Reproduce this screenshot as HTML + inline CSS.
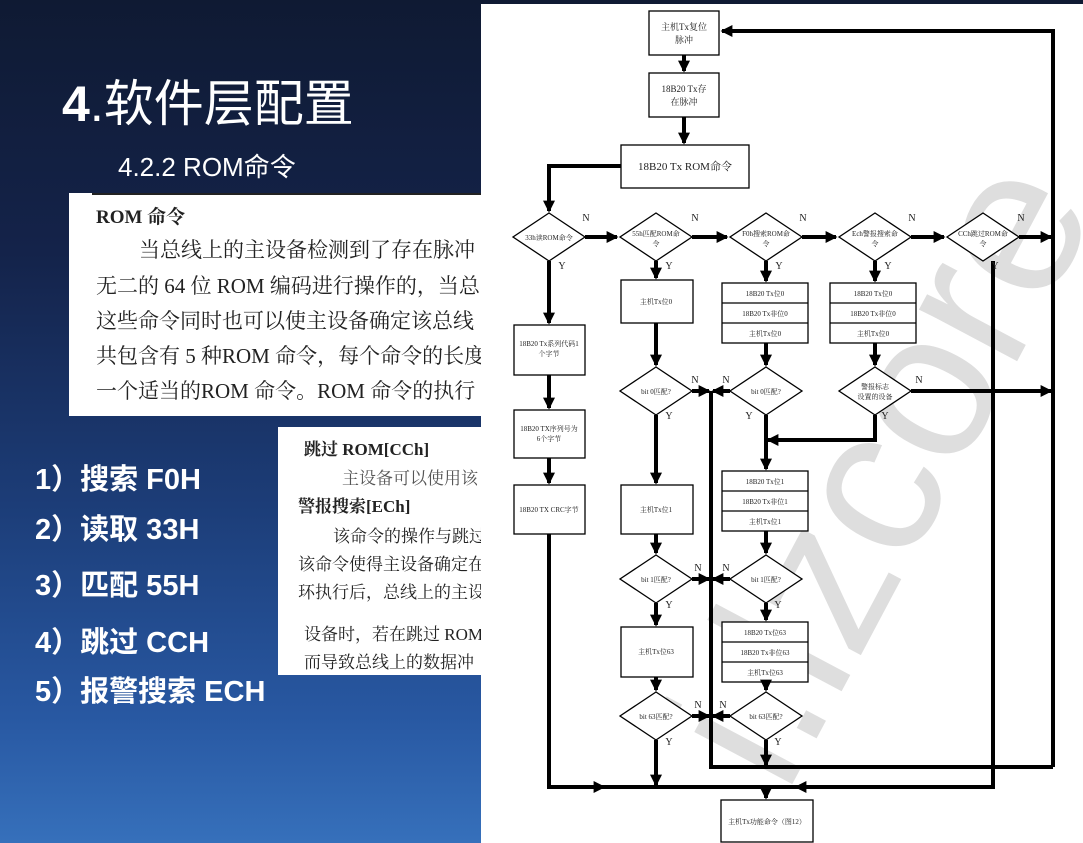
<!DOCTYPE html>
<html><head><meta charset="utf-8"><style>
html,body{margin:0;padding:0;width:1083px;height:843px;overflow:hidden;}
body{background:linear-gradient(180deg,#0f1a33 0%,#14234a 30%,#1c3d78 60%,#2858a2 85%,#3670bb 100%);position:relative;font-family:"Liberation Sans","Noto Sans CJK SC",sans-serif;}
.abs{position:absolute;}
.t1{left:62px;top:64px;color:#fff;font-size:50px;white-space:nowrap;}
.t2{left:118px;top:147px;color:#fff;font-size:26px;white-space:nowrap;}
.box1{left:69px;top:193px;width:412px;height:223px;background:#fff;overflow:hidden;}
.box2{left:278px;top:427px;width:203px;height:248px;background:#fff;overflow:hidden;}
.doc{font-family:"Liberation Serif","Noto Serif CJK SC",serif;color:#222;white-space:nowrap;position:absolute;}
.li{color:#fff;font-weight:bold;font-size:29px;left:35px;white-space:nowrap;}
</style></head><body>
<div class="abs t1"><b>4</b>.软件层配置</div>
<div class="abs t2">4.2.2 ROM命令</div>
<div class="abs box1">
 <div style="position:absolute;left:23px;top:0;width:400px;height:2px;background:#222"></div>
 <div class="doc" style="left:27px;top:9px;font-size:19px;font-weight:bold">ROM 命令</div>
 <div class="doc" style="left:70px;top:41px;font-size:21px">当总线上的主设备检测到了存在脉冲</div>
 <div class="doc" style="left:27px;top:77px;font-size:21px">无二的 64 位 ROM 编码进行操作的，当总</div>
 <div class="doc" style="left:27px;top:112px;font-size:21px">这些命令同时也可以使主设备确定该总线</div>
 <div class="doc" style="left:27px;top:147px;font-size:21px">共包含有 5 种ROM 命令，每个命令的长度</div>
 <div class="doc" style="left:27px;top:182px;font-size:21px">一个适当的ROM 命令。ROM 命令的执行</div>
</div>
<div class="abs box2">
 <div class="doc" style="left:26px;top:8px;font-size:17px;font-weight:bold">跳过 ROM[CCh]</div>
 <div class="doc" style="left:64px;top:37px;font-size:17px;color:#555">主设备可以使用该</div>
 <div class="doc" style="left:20px;top:65px;font-size:17px;font-weight:bold">警报搜索[ECh]</div>
 <div class="doc" style="left:55px;top:95px;font-size:17px">该命令的操作与跳过</div>
 <div class="doc" style="left:20px;top:123px;font-size:17px">该命令使得主设备确定在</div>
 <div class="doc" style="left:20px;top:151px;font-size:17px">环执行后，总线上的主设</div>
 <div class="doc" style="left:26px;top:193px;font-size:17px">设备时，若在跳过 ROM</div>
 <div class="doc" style="left:26px;top:221px;font-size:17px">而导致总线上的数据冲</div>
</div>
<div class="abs li" style="top:456px">1）搜索 F0H</div>
<div class="abs li" style="top:506px">2）读取 33H</div>
<div class="abs li" style="top:562px">3）匹配 55H</div>
<div class="abs li" style="top:619px">4）跳过 CCH</div>
<div class="abs li" style="top:668px">5）报警搜索 ECH</div>

<svg class="abs" style="left:0;top:0" width="1083" height="843" viewBox="0 0 1083 843" font-family="Liberation Serif,Noto Serif CJK SC,serif">
<defs><marker id="a" markerWidth="3" markerHeight="3" refX="2.6" refY="1.5" orient="auto" markerUnits="strokeWidth"><path d="M0,0 L3,1.5 L0,3 z" fill="#000"/></marker></defs>
<rect x="481" y="4" width="602" height="839" fill="#fff"/>
<g transform="translate(880,470) rotate(-62)" fill="#dedede" font-family="Liberation Sans,sans-serif" font-size="210" text-anchor="middle"><text x="0" y="70">i.lzcore</text></g>
<g fill="#fff" stroke="#000" stroke-width="1.3">
<rect x="649" y="11" width="70" height="44"/>
<rect x="649" y="73" width="70" height="44"/>
<rect x="621" y="145" width="128" height="43"/>
<rect x="514" y="325" width="71" height="50"/>
<rect x="514" y="410" width="71" height="48"/>
<rect x="514" y="485" width="71" height="49"/>
<rect x="621" y="280" width="72" height="43"/>
<rect x="621" y="485" width="72" height="49"/>
<rect x="621" y="627" width="72" height="50"/>
<rect x="722" y="283" width="86" height="60"/>
<rect x="830" y="283" width="86" height="60"/>
<rect x="722" y="471" width="86" height="60"/>
<rect x="722" y="622" width="86" height="60"/>
<rect x="721" y="800" width="92" height="42"/>
<path d="M722,303H808M722,323H808M830,303H916M830,323H916M722,491H808M722,511H808M722,642H808M722,662H808"/>
<path d="M549,213L585,237L549,261L513,237Z"/>
<path d="M656,213L692,237L656,261L620,237Z"/>
<path d="M766,213L802,237L766,261L730,237Z"/>
<path d="M875,213L911,237L875,261L839,237Z"/>
<path d="M983,213L1019,237L983,261L947,237Z"/>
<path d="M656,367L692,391L656,415L620,391Z"/>
<path d="M766,367L802,391L766,415L730,391Z"/>
<path d="M875,367L911,391L875,415L839,391Z"/>
<path d="M656,555L692,579L656,603L620,579Z"/>
<path d="M766,555L802,579L766,603L730,579Z"/>
<path d="M656,692L692,716L656,740L620,716Z"/>
<path d="M766,692L802,716L766,740L730,716Z"/>
</g>
<g stroke="#000" stroke-width="4" fill="none">
<path d="M684,55V71" marker-end="url(#a)"/>
<path d="M684,117V143" marker-end="url(#a)"/>
<path d="M621,193H549V211" marker-end="url(#a)" transform="translate(0,0)" style="display:none"/>
<path d="M621,166H549V211" marker-end="url(#a)"/>
<path d="M585,237H617" marker-end="url(#a)"/>
<path d="M692,237H727" marker-end="url(#a)"/>
<path d="M802,237H836" marker-end="url(#a)"/>
<path d="M911,237H944" marker-end="url(#a)"/>
<path d="M1019,237H1051" marker-end="url(#a)"/>
<path d="M1053,767V31H722" marker-end="url(#a)"/>
<path d="M549,261V323" marker-end="url(#a)"/>
<path d="M549,375V408" marker-end="url(#a)"/>
<path d="M549,458V483" marker-end="url(#a)"/>
<path d="M549,534V787H993V261"/>
<path d="M595,787H604" marker-end="url(#a)"/>
<path d="M805,787H796" marker-end="url(#a)"/>
<path d="M766,787V798" marker-end="url(#a)"/>
<path d="M656,261V278" marker-end="url(#a)"/>
<path d="M766,261V281" marker-end="url(#a)"/>
<path d="M875,261V281" marker-end="url(#a)"/>
<path d="M656,323V365" marker-end="url(#a)"/>
<path d="M766,343V365" marker-end="url(#a)"/>
<path d="M875,343V365" marker-end="url(#a)"/>
<path d="M911,391H1051" marker-end="url(#a)"/>
<path d="M875,415V440H768" marker-end="url(#a)"/>
<path d="M656,415V483" marker-end="url(#a)"/>
<path d="M766,415V469" marker-end="url(#a)"/>
<path d="M656,534V553" marker-end="url(#a)"/>
<path d="M766,531V553" marker-end="url(#a)"/>
<path d="M656,603V625" marker-end="url(#a)"/>
<path d="M766,603V620" marker-end="url(#a)"/>
<path d="M656,677V690" marker-end="url(#a)"/>
<path d="M766,682V690" marker-end="url(#a)"/>
<path d="M656,740V785" marker-end="url(#a)"/>
<path d="M766,740V765" marker-end="url(#a)"/>
<path d="M711,391V767H1053"/>
<path d="M692,391H709" marker-end="url(#a)"/>
<path d="M730,391H713" marker-end="url(#a)"/>
<path d="M692,579H709" marker-end="url(#a)"/>
<path d="M730,579H713" marker-end="url(#a)"/>
<path d="M692,716H709" marker-end="url(#a)"/>
<path d="M730,716H713" marker-end="url(#a)"/>
</g>
<g font-size="9" text-anchor="middle" fill="#222">
<text x="684" y="30">主机Tx复位</text><text x="684" y="43">脉冲</text>
<text x="684" y="92">18B20 Tx存</text><text x="684" y="105">在脉冲</text>
<text x="685" y="170" font-size="11">18B20  Tx  ROM命令</text>
<g font-size="7">
<text x="549" y="240">33h读ROM命令</text>
<text x="656" y="236">55h匹配ROM命</text><text x="656" y="246">令</text>
<text x="766" y="236">F0h搜索ROM命</text><text x="766" y="246">令</text>
<text x="875" y="236">Ech警报搜索命</text><text x="875" y="246">令</text>
<text x="983" y="236">CCh跳过ROM命</text><text x="983" y="246">令</text>
<text x="549" y="346">18B20 Tx系列代码1</text><text x="549" y="356">个字节</text>
<text x="549" y="431">18B20 TX序列号为</text><text x="549" y="441">6个字节</text>
<text x="549" y="512">18B20 TX CRC字节</text>
<text x="656" y="304">主机Tx位0</text>
<text x="656" y="512">主机Tx位1</text>
<text x="656" y="654">主机Tx位63</text>
<text x="765" y="296">18B20 Tx位0</text><text x="765" y="316">18B20 Tx非位0</text><text x="765" y="336">主机Tx位0</text>
<text x="873" y="296">18B20 Tx位0</text><text x="873" y="316">18B20 Tx非位0</text><text x="873" y="336">主机Tx位0</text>
<text x="765" y="484">18B20 Tx位1</text><text x="765" y="504">18B20 Tx非位1</text><text x="765" y="524">主机Tx位1</text>
<text x="765" y="635">18B20 Tx位63</text><text x="765" y="655">18B20 Tx非位63</text><text x="765" y="675">主机Tx位63</text>
<text x="656" y="394">bit 0匹配?</text><text x="766" y="394">bit 0匹配?</text>
<text x="875" y="389">警报标志</text><text x="875" y="399">设置的设备</text>
<text x="656" y="582">bit 1匹配?</text><text x="766" y="582">bit 1匹配?</text>
<text x="656" y="719">bit 63匹配?</text><text x="766" y="719">bit 63匹配?</text>
<text x="767" y="824">主机Tx功能命令（图12）</text>
</g>
<g font-size="10">
<text x="586" y="221">N</text><text x="695" y="221">N</text><text x="803" y="221">N</text><text x="912" y="221">N</text><text x="1021" y="221">N</text>
<text x="562" y="269">Y</text><text x="669" y="269">Y</text><text x="779" y="269">Y</text><text x="888" y="269">Y</text><text x="995" y="269">Y</text>
<text x="695" y="383">N</text><text x="726" y="383">N</text><text x="919" y="383">N</text>
<text x="669" y="419">Y</text><text x="749" y="419">Y</text><text x="885" y="419">Y</text>
<text x="698" y="571">N</text><text x="726" y="571">N</text>
<text x="669" y="608">Y</text><text x="778" y="608">Y</text>
<text x="698" y="708">N</text><text x="723" y="708">N</text>
<text x="669" y="745">Y</text><text x="778" y="745">Y</text>
</g>
</g>
</svg>
</body></html>
